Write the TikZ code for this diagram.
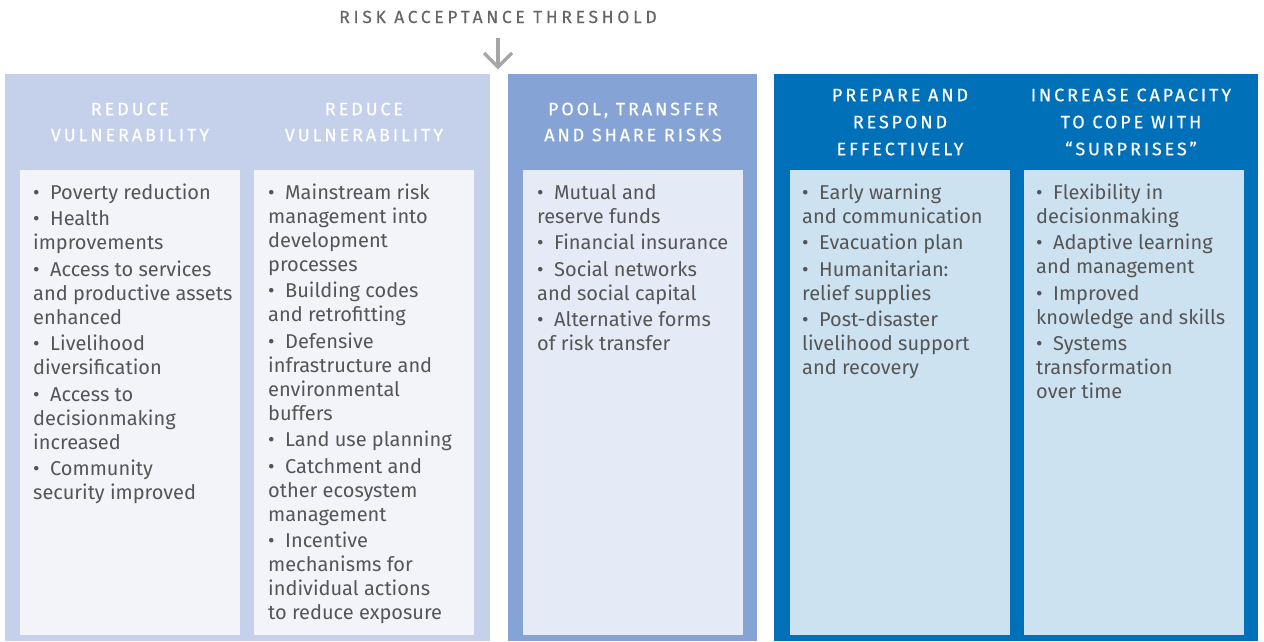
\documentclass[tikz,border=0pt]{standalone}
\usepackage{fontspec}
\setmainfont{Fira Sans}
\newfontfamily\headfont[LetterSpace=16,FakeBold=0.5]{Fira Sans}
\newfontfamily\titlefont[LetterSpace=21,FakeBold=0.3]{Fira Sans}
\newcommand{\bitem}{•\hspace{10.5pt}}
\definecolor{panelA}{HTML}{C5D1EB}
\definecolor{innerA}{HTML}{F3F4FA}
\definecolor{panelB}{HTML}{85A4D5}
\definecolor{innerB}{HTML}{E5EBF6}
\definecolor{panelC}{HTML}{0070B8}
\definecolor{innerC}{HTML}{CDE2F1}
\definecolor{bodytext}{HTML}{555555}
\definecolor{titletext}{HTML}{666666}
\definecolor{arrowgray}{HTML}{A6A6A6}
\tikzset{
  bodytxt/.style={anchor=north west, inner sep=0pt, align=left, text=bodytext,
    font=\fontsize{20}{24}\selectfont},
  headtxt/.style={anchor=north, inner sep=0pt, align=center, text=white,
    font=\headfont\fontsize{18}{26}\selectfont},
}
\begin{document}
\begin{tikzpicture}[x=1pt,y=-1pt]
\useasboundingbox (0,0) rectangle (1264,641);
% panels
\fill[panelA] (5,74) rectangle (490,641);
\fill[panelB] (508,74) rectangle (757,641);
\fill[panelC] (774,74) rectangle (1258,641);
% inner boxes
\fill[innerA] (20,170) rectangle (240,635);
\fill[innerA] (254,170) rectangle (474,635);
\fill[innerB] (523,170) rectangle (743,635);
\fill[innerC] (790,170) rectangle (1010,635);
\fill[innerC] (1024,170) rectangle (1244,635);
% title and arrow
\node[anchor=base, inner sep=0pt, text=titletext, font=\titlefont\fontsize{17.5}{20}\selectfont] (title) at (498,23) {RISK ACCEPTANCE THRESHOLD};
\coordinate (arrtop) at (498,38);
\coordinate (arrbot) at (498,67);
\draw[arrowgray, line width=3.5pt] (arrtop) -- (arrbot);
\draw[arrowgray, line width=3.5pt, line join=miter] (484,53) -- (arrbot) -- (512,53);
% headers (strut height 18.2 above first baseline 115)
\node[headtxt] (h1) at (130,96.8) {\strut REDUCE\\VULNERABILITY};
\node[headtxt] (h2) at (364,96.8) {\strut REDUCE\\VULNERABILITY};
\node[headtxt] (h3) at (633,96.8) {\strut POOL, TRANSFER\\AND SHARE RISKS};
\node[headtxt, font=\headfont\fontsize{18}{27}\selectfont] (h4) at (900,82.1) {\strut PREPARE AND\\RESPOND\\EFFECTIVELY};
\node[headtxt, font=\headfont\fontsize{18}{27}\selectfont] (h5) at (1131,82.1) {\strut INCREASE CAPACITY\\TO COPE WITH\\“SURPRISES”};
% body texts (strut height 16.8 above first baseline 199)
\node[bodytxt] (b1) at (33,182.2) {\strut\bitem Poverty reduction\\[2.5pt]
\bitem Health\\improvements\\[2.5pt]
\bitem Access to services\\and productive assets\\enhanced\\[2.5pt]
\bitem Livelihood\\diversification\\[2.5pt]
\bitem Access to\\decisionmaking\\increased\\[2.5pt]
\bitem Community\\security improved};
\node[bodytxt] (b2) at (268,182.2) {\strut\bitem Mainstream risk\\management into\\development\\processes\\[2.5pt]
\bitem Building codes\\and retrofitting\\[2.5pt]
\bitem Defensive\\infrastructure and\\environmental\\buffers\\[2.5pt]
\bitem Land use planning\\[2.5pt]
\bitem Catchment and\\other ecosystem\\management\\[2.5pt]
\bitem Incentive\\mechanisms for\\individual actions\\to reduce exposure};
\node[bodytxt] (b3) at (537,182.2) {\strut\bitem Mutual and\\reserve funds\\[2.5pt]
\bitem Financial insurance\\[2.5pt]
\bitem Social networks\\and social capital\\[2.5pt]
\bitem Alternative forms\\of risk transfer};
\node[bodytxt] (b4) at (802,182.2) {\strut\bitem Early warning\\and communication\\[2.5pt]
\bitem Evacuation plan\\[2.5pt]
\bitem Humanitarian:\\relief supplies\\[2.5pt]
\bitem Post-disaster\\livelihood support\\and recovery};
\node[bodytxt] (b5) at (1036,182.2) {\strut\bitem Flexibility in\\decisionmaking\\[2.5pt]
\bitem Adaptive learning\\and management\\[2.5pt]
\bitem Improved\\knowledge and skills\\[2.5pt]
\bitem Systems\\transformation\\over time};
\end{tikzpicture}
\end{document}
